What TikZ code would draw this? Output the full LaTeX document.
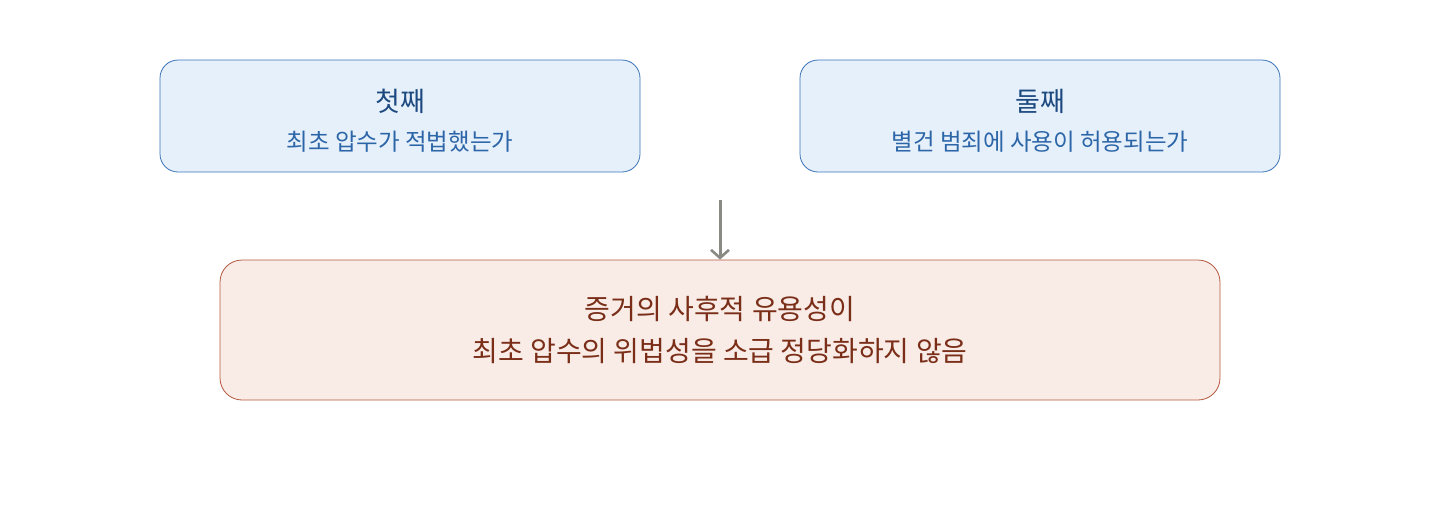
\documentclass[tikz,border=0pt]{standalone}
\usepackage{fontspec}
\setmainfont{Noto Sans CJK KR}
\usetikzlibrary{arrows.meta}
\definecolor{topfill}{HTML}{E6F0FA}
\definecolor{topdraw}{HTML}{3A74B8}
\definecolor{toptitle}{HTML}{1C4A80}
\definecolor{topsub}{HTML}{2C66A8}
\definecolor{botfill}{HTML}{F9ECE7}
\definecolor{botdraw}{HTML}{B5573C}
\definecolor{bottext}{HTML}{7A2E18}
\definecolor{arrowc}{HTML}{8A8A85}
\tikzset{
  topbox/.style={draw=topdraw, fill=topfill, line width=0.8pt, rounded corners=18pt, minimum width=480pt, minimum height=112pt, inner sep=0pt},
  botbox/.style={draw=botdraw, fill=botfill, line width=0.8pt, rounded corners=22pt, minimum width=1000pt, minimum height=140pt, inner sep=0pt},
  titletext/.style={text=toptitle, font=\fontsize{27pt}{32pt}\selectfont},
  subtext/.style={text=topsub, font=\fontsize{23.5pt}{28pt}\selectfont},
  bottxt/.style={text=bottext, font=\fontsize{28pt}{32pt}\selectfont},
  conn/.style={draw=arrowc, line width=3pt, -{Straight Barb[length=8pt,width=18pt,line width=2.6pt]}}
}
\begin{document}
\begin{tikzpicture}[x=1pt,y=-1pt]
\useasboundingbox (0,0) rectangle (1440,520);
\node[topbox] (first) at (400,116) {};
\node[titletext] (firstT) at (400,101) {첫째};
\node[subtext] (firstS) at (400,141.5) {최초 압수가 적법했는가};
\node[topbox] (second) at (1040,116) {};
\node[titletext] (secondT) at (1040,101) {둘째};
\node[subtext] (secondS) at (1040,141.5) {별건 범죄에 사용이 허용되는가};
\node[botbox] (result) at (720,330) {};
\node[bottxt, align=center] (resultT) at (720,330) {증거의 사후적 유용성이\\[10pt]최초 압수의 위법성을 소급 정당화하지 않음};
\coordinate (src) at (720,200);
\draw[conn] (src) -- (result.north);
\end{tikzpicture}
\end{document}
